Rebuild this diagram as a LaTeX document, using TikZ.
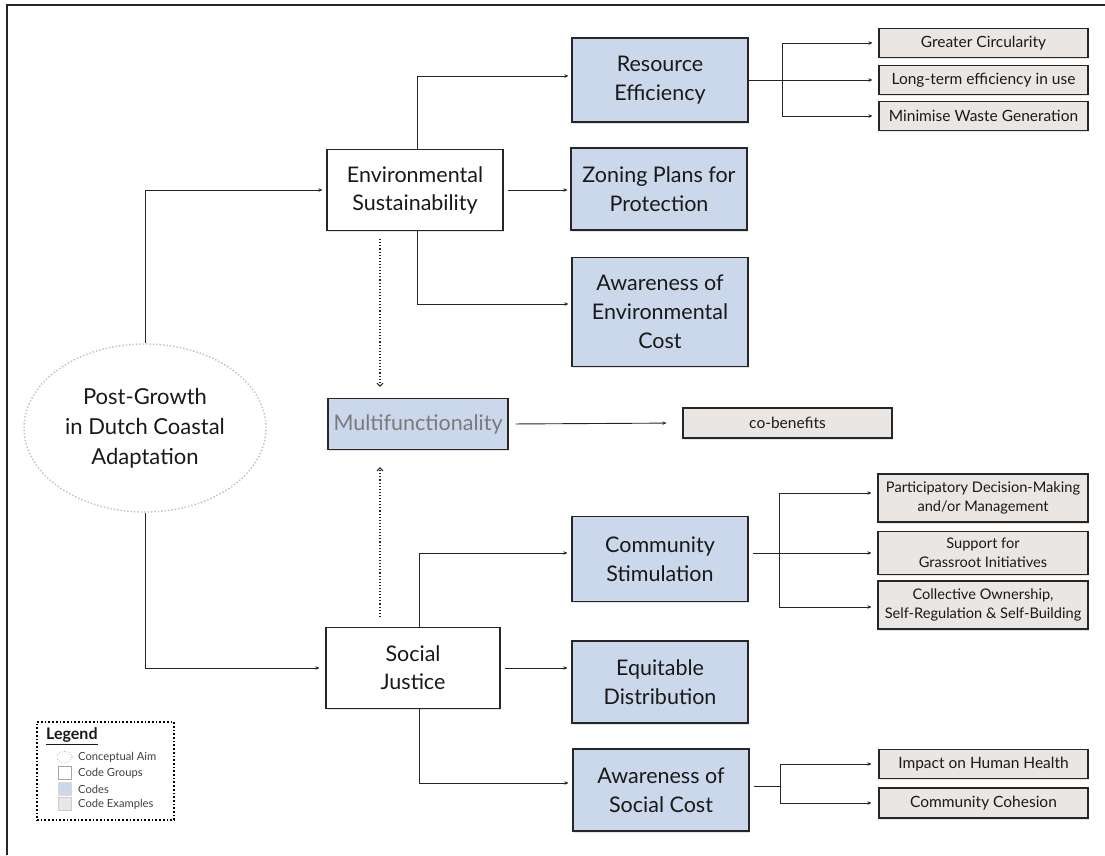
\documentclass[tikz,border=0pt]{standalone}
\usepackage{fontspec}
\setmainfont{Lato}
\usetikzlibrary{arrows.meta,shapes.geometric,shadows,calc}
\definecolor{codeblue}{HTML}{CBD7EA}
\definecolor{exgray}{HTML}{E9E6E4}
\definecolor{ink}{HTML}{262626}
\begin{document}
\begin{tikzpicture}[x=1pt,y=-1pt,
  box/.style={draw=ink, line width=1.2pt, align=center, inner sep=0pt, text=black!90,
    drop shadow={shadow xshift=1.2pt, shadow yshift=-1.6pt, opacity=0.22}},
  grp/.style={box, fill=white, minimum width=176pt, minimum height=81pt, font=\fontsize{21.5}{28}\selectfont},
  cod/.style={box, fill=codeblue, minimum width=176pt, font=\fontsize{21.5}{29}\selectfont},
  exa/.style={box, fill=exgray, line width=1.1pt, minimum width=209pt, font=\fontsize{15.5}{19}\selectfont},
  exb/.style={exa, minimum width=210pt, font=\fontsize{14.6}{19}\selectfont},
  conn/.style={draw=ink, line width=0.9pt},
  arr/.style={conn, -{Stealth[length=4pt,width=3.6pt]}},
  dotarr/.style={draw=ink, line width=1.1pt, dotted, -{Straight Barb[length=3pt,width=6pt]}},
  legtxt/.style={anchor=west, font=\fontsize{11.2}{11.2}\selectfont, text=black!75, inner sep=0pt},
  legico/.style={minimum size=13pt, inner sep=0pt, line width=0.5pt}
]
\useasboundingbox (0,0) rectangle (1105,855);
% frame
\draw[line width=1.6pt, ink] (7,855) -- (7,5) -- (1105,5);

% conceptual aim
\node[ellipse, draw=black!25, line width=1.4pt, dotted, minimum width=242pt, minimum height=168pt,
  align=center, font=\fontsize{22}{30}\selectfont, text=black!90] (aim) at (145,428)
  {Post-Growth\\in Dutch Coastal\\Adaptation};

% code groups
\node[grp] (env) at (415,190) {Environmental\\Sustainability};
\node[grp, minimum width=174pt] (soc) at (413,668) {Social\\Justice};

% codes
\node[cod, minimum height=84pt] (res) at (660,80) {Resource\\Efficiency};
\node[cod, minimum height=82pt] (zon) at (659,189) {Zoning Plans for\\Protection};
\node[cod, minimum height=109pt] (aec) at (660,312) {Awareness of\\Environmental\\Cost};
\node[cod, minimum width=180pt, minimum height=51pt, text=black!52] (mul) at (418,424) {Multifunctionality};
\node[cod, minimum height=85pt] (com) at (660,559) {Community\\Stimulation};
\node[cod, minimum height=82pt] (equ) at (660,682) {Equitable\\Distribution};
\node[cod, minimum height=82pt] (asc) at (661,790) {Awareness of\\Social Cost};

% code examples
\node[exa, minimum height=29pt] (gc) at (983.5,43) {Greater Circularity};
\node[exa, minimum height=29pt] (lt) at (983.5,80) {Long-term efficiency in use};
\node[exa, minimum height=29pt] (mw) at (983.5,116) {Minimise Waste Generation};
\node[exa, minimum height=30pt] (cob) at (787.5,423) {co-benefits};
\node[exb, minimum height=48pt] (pdm) at (983,498) {Participatory Decision-Making\\and/or Management};
\node[exb, minimum height=43pt] (sgi) at (983,553) {Support for\\Grassroot Initiatives};
\node[exb, minimum height=48pt] (cos) at (983,605) {Collective Ownership,\\Self-Regulation \& Self-Building};
\node[exa, minimum height=29pt] (ihh) at (983.5,764) {Impact on Human Health};
\node[exa, minimum height=30pt] (cc) at (983.5,803) {Community Cohesion};

% junction coordinates
\coordinate (rb) at (782,80);
\coordinate (cb) at (779,553);
\coordinate (ab) at (780,786);

% connectors: aim -> groups
\draw[arr, shorten >=4pt] (aim.north) |- (env.west);
\draw[arr, shorten >=6pt] (aim.south) |- (soc.west);

% environmental sustainability
\draw[arr, shorten >=3pt] ([xshift=2pt]env.north) |- ([yshift=4pt]res.west);
\draw[arr, shorten <=4pt, shorten >=3pt] (env.east) -- (env.east -| zon.west);
\draw[arr, shorten >=3pt] ([xshift=2pt]env.south) |- ([yshift=8pt]aec.west);
\draw[dotarr, shorten <=8pt, shorten >=11pt] ([xshift=-35pt]env.south) -- ([xshift=-38pt]mul.north);

% social justice
\draw[dotarr, shorten <=10pt, shorten >=17pt] ([xshift=-33pt]soc.north) -- ([xshift=-38pt]mul.south);
\draw[arr, shorten >=4pt] ([xshift=6pt]soc.north) |- ([yshift=6pt]com.west);
\draw[arr, shorten <=4pt, shorten >=4pt] (soc.east) -- (soc.east -| equ.west);
\draw[arr, shorten >=4pt] ([xshift=6pt]soc.south) |- ([yshift=7pt]asc.west);

% multifunctionality
\draw[arr, shorten <=7pt, shorten >=16pt] (mul.east) -- (cob.west);

% resource efficiency examples
\draw[arr, shorten >=6pt] (res.east) -- (lt.west);
\draw[arr, shorten >=6pt] (rb) |- (gc.west);
\draw[arr, shorten >=6pt] (rb) |- (mw.west);

% community stimulation examples
\draw[arr, shorten <=4pt, shorten >=6pt] ([yshift=6pt]com.east) -- (sgi.west);
\draw[arr, shorten >=6pt] (cb) |- ([yshift=5pt]pdm.west);
\draw[arr, shorten >=6pt] (cb) |- ([yshift=-2pt]cos.west);

% social cost examples
\draw[conn, shorten <=4pt] ([yshift=4pt]asc.east) -- (ab);
\draw[arr, shorten >=7pt] (ab) |- (ihh.west);
\draw[arr, shorten >=7pt] (ab) |- (cc.west);

% legend
\node[draw=black, line width=1.7pt, dotted, minimum width=137pt, minimum height=98pt, inner sep=0pt] (leg) at (105.5,771) {};
\node[anchor=west, inner sep=0pt, font=\bfseries\fontsize{16}{16}\selectfont, text=black!90] (legt) at (46,736) {\underline{Legend}};
\node[legico, ellipse, draw=black!45, dotted, line width=0.8pt, minimum width=15pt, minimum height=11pt] (li1) at (64.5,757) {};
\node[legico, draw=black!35, fill=white] (li2) at (64.5,773) {};
\node[legico, draw=black!15, fill=codeblue] (li3) at (64.5,789) {};
\node[legico, draw=black!20, fill=exgray] (li4) at (64.5,804) {};
\node[legtxt] (lt1) at (78,757) {Conceptual Aim};
\node[legtxt] (lt2) at (78,773) {Code Groups};
\node[legtxt] (lt3) at (78,789) {Codes};
\node[legtxt] (lt4) at (78,804) {Code Examples};
\end{tikzpicture}
\end{document}
